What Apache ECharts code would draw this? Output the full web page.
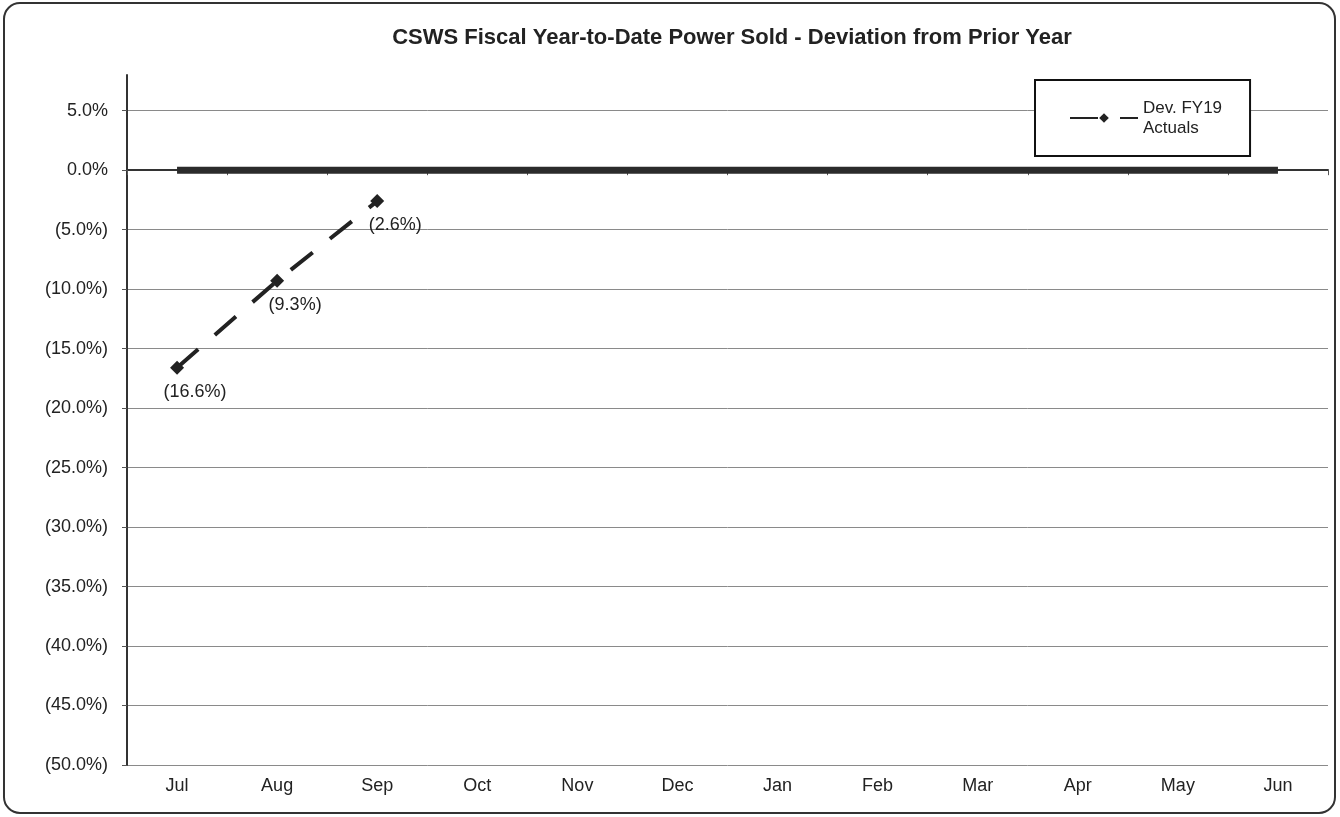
<!DOCTYPE html>
<html>
<head>
<meta charset="utf-8">
<script src="https://cdn.jsdelivr.net/npm/echarts@6/dist/echarts.min.js"></script>
<style>
  html, body { margin: 0; padding: 0; background: #fff; }
  #chart { width: 1340px; height: 817px; }
</style>
</head>
<body>
<div id="chart"></div>
<script>
const months = ['Jul', 'Aug', 'Sep', 'Oct', 'Nov', 'Dec', 'Jan', 'Feb', 'Mar', 'Apr', 'May', 'Jun'];
// deviation from prior year, percent
const devFY19 = [-16.6, -9.3, -2.6];
const baseline = [0, 0, 0, 0, 0, 0, 0, 0, 0, 0, 0, 0];

// Excel style: negatives in brackets
function pct(v) {
  const s = Math.abs(v).toFixed(1) + '%';
  return v < 0 ? '(' + s + ')' : s;
}

const chart = echarts.init(document.getElementById('chart'));
const font = 'Liberation Sans, Arial, sans-serif';

// grey gridlines, last one (top edge of plot) hidden
const gridColors = [];
for (let i = 0; i < 12; i++) gridColors.push('#8a8a8a');
gridColors.push('rgba(0,0,0,0)');

chart.setOption({
  animation: false,
  textStyle: { fontFamily: font },
  title: {
    text: 'CSWS Fiscal Year-to-Date Power Sold - Deviation from Prior Year',
    left: 727,
    textAlign: 'center',
    top: 22,
    textStyle: { fontSize: 22, fontWeight: 'bold', color: '#222', fontFamily: font },
  },
  graphic: [{
    type: 'rect',
    shape: { x: 4, y: 3, width: 1331, height: 810, r: 16 },
    style: { fill: 'none', stroke: '#333', lineWidth: 2 },
    silent: true,
  }],
  legend: {
    left: 1035,
    top: 80,
    orient: 'vertical',
    data: ['Dev. FY19\nActuals'],
    backgroundColor: '#fff',
    borderColor: '#111',
    borderWidth: 2,
    padding: [18, 28, 18, 34],
    itemWidth: 68,
    itemHeight: 12,
    itemGap: 0,
    textStyle: { fontSize: 17, color: '#222', fontFamily: font, lineHeight: 20 },
  },
  grid: { left: 127, right: 12, top: 75, bottom: 52 },
  xAxis: {
    type: 'category',
    data: months,
    boundaryGap: true,
    axisLine: { lineStyle: { color: '#333', width: 2 } },
    axisTick: { show: true, length: 5, lineStyle: { color: '#555' } },
    axisLabel: { fontSize: 18, color: '#222', margin: 12, fontFamily: font },
  },
  yAxis: {
    type: 'value',
    min: -50,
    max: 8,
    interval: 5,
    axisLine: { show: true, lineStyle: { color: '#333', width: 2 } },
    axisTick: { show: true, length: 5, lineStyle: { color: '#555' } },
    axisLabel: {
      fontSize: 18, color: '#222', margin: 19, fontFamily: font,
      showMaxLabel: false,
      formatter: v => (v % 5 === 0 ? pct(v) : ''),
    },
    splitLine: { lineStyle: { color: gridColors, width: 1 } },
  },
  series: [
    {
      name: 'zero',
      type: 'line',
      data: baseline,
      symbol: 'none',
      lineStyle: { color: '#2b2b2b', width: 7 },
      silent: true,
      z: 1,
    },
    {
      name: 'Dev. FY19\nActuals',
      type: 'line',
      data: devFY19,
      symbol: 'diamond',
      symbolSize: 14,
      itemStyle: { color: '#222' },
      lineStyle: { color: '#222', width: 4, type: [28, 22] },
      label: {
        show: true,
        position: 'bottom',
        distance: 8,
        offset: [18, 0],
        fontSize: 18,
        color: '#222',
        fontFamily: font,
        formatter: p => pct(p.value),
      },
      z: 3,
    },
  ],
});
</script>
</body>
</html>
